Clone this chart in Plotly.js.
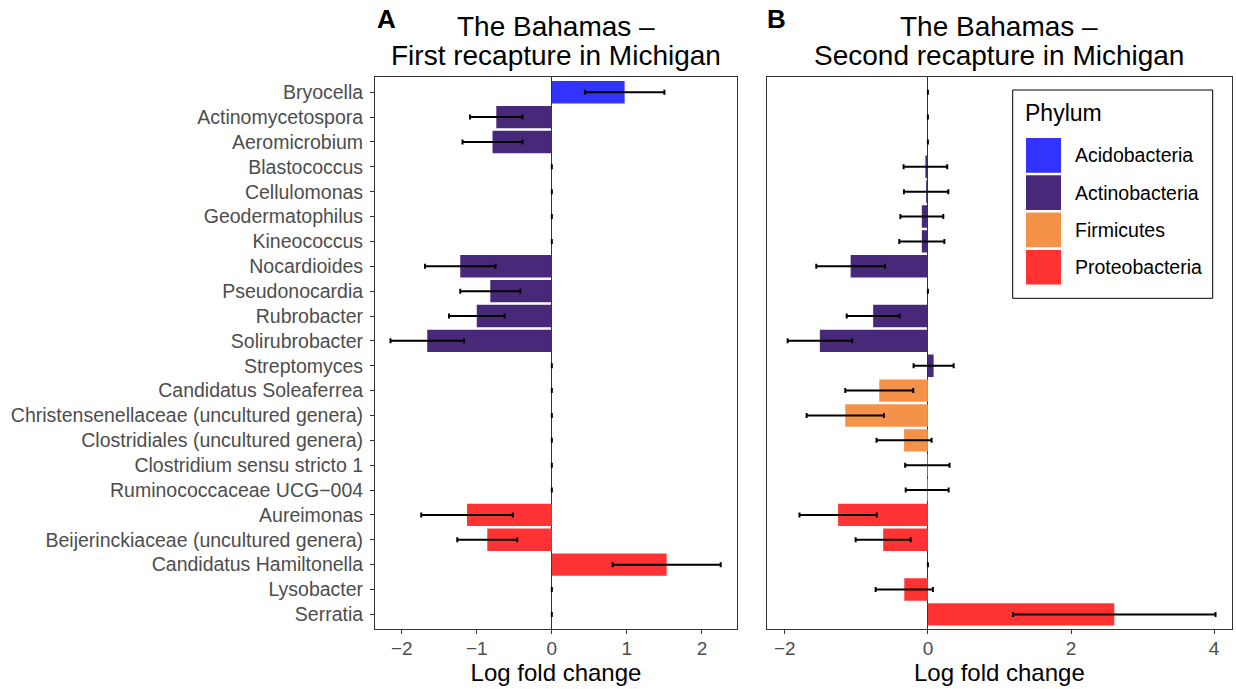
<!DOCTYPE html>
<html><head><meta charset="utf-8">
<script src="https://cdn.plot.ly/plotly-3.0.1.min.js"></script>
<style>html,body{margin:0;padding:0;background:#fff}#chart{width:1236px;height:689px}</style>
</head><body><div id="chart"></div>
<script>
const genera = ["Bryocella","Actinomycetospora","Aeromicrobium","Blastococcus","Cellulomonas","Geodermatophilus","Kineococcus","Nocardioides","Pseudonocardia","Rubrobacter","Solirubrobacter","Streptomyces","Candidatus Soleaferrea","Christensenellaceae (uncultured genera)","Clostridiales (uncultured genera)","Clostridium sensu stricto 1","Ruminococcaceae UCG\u2212004","Aureimonas","Beijerinckiaceae (uncultured genera)","Candidatus Hamiltonella","Lysobacter","Serratia"];
const phylum = ["Acidobacteria","Actinobacteria","Actinobacteria","Actinobacteria","Actinobacteria","Actinobacteria","Actinobacteria","Actinobacteria","Actinobacteria","Actinobacteria","Actinobacteria","Actinobacteria","Firmicutes","Firmicutes","Firmicutes","Firmicutes","Firmicutes","Proteobacteria","Proteobacteria","Proteobacteria","Proteobacteria","Proteobacteria"];
const lfcFirst = [0.97,-0.74,-0.79,0,0,0,0,-1.22,-0.82,-1.00,-1.66,0,0,0,0,0,0,-1.13,-0.86,1.53,0,0];
const seFirst  = [0.53,0.35,0.40,0,0,0,0,0.47,0.40,0.37,0.49,0,0,0,0,0,0,0.61,0.40,0.72,0,0];
const lfcSecond = [0,0,0,-0.035,-0.025,-0.085,-0.085,-1.08,0,-0.765,-1.51,0.08,-0.68,-1.155,-0.333,-0.008,-0.01,-1.255,-0.625,0,-0.33,2.605];
const seSecond  = [0,0,0,0.305,0.31,0.30,0.315,0.48,0,0.37,0.45,0.28,0.475,0.54,0.385,0.31,0.30,0.54,0.385,0,0.40,1.415];
const phyla = ["Acidobacteria","Actinobacteria","Firmicutes","Proteobacteria"];
const titleLines = [["The Bahamas \u2013","First recapture in Michigan"],["The Bahamas \u2013","Second recapture in Michigan"]];
const phylumColors = {"Acidobacteria":"#3333FF","Actinobacteria":"#482878","Firmicutes":"#F39248","Proteobacteria":"#FF3333"};

const FONT = "Liberation Sans, Arial, Helvetica, sans-serif";
function barTrace(vals, errs, xa, ya){
  return {type:"bar", orientation:"h", x:vals, y:genera, xaxis:xa, yaxis:ya,
    width:0.9, marker:{color:phylum.map(p=>phylumColors[p]), line:{width:0}},
    error_x:{type:"data", array:errs, visible:true, color:"#000", thickness:2, width:2.5},
    showlegend:false, hoverinfo:"x+y"};
}
const data = [barTrace(lfcFirst, seFirst, "x", "y"), barTrace(lfcSecond, seSecond, "x2", "y2")];

const axBase = {showgrid:false, zeroline:true, zerolinecolor:"#333", zerolinewidth:1,
  showline:true, mirror:true, linecolor:"#333", linewidth:1,
  ticks:"outside", ticklen:4, tickcolor:"#333", tickwidth:1,
  tickfont:{family:FONT, size:19, color:"#4D4D4D"}};
const yDom = [1-629.3/689, 1-77.3/689];
const xTitle = {text:"Log fold change", font:{family:FONT, size:24, color:"#000"}, standoff:2};
const layout = {
  width:1236, height:689, margin:{l:0,r:0,t:0,b:0}, paper_bgcolor:"#fff", plot_bgcolor:"#fff",
  barmode:"overlay", font:{family:FONT},
  xaxis:Object.assign({}, axBase, {domain:[375/1236, 737/1236], range:[-2.356, 2.467], dtick:1, tick0:0,
    title:xTitle, ticklabelstandoff:-2}),
  yaxis:Object.assign({}, axBase, {domain:yDom, type:"category", range:[21.6,-0.6], zeroline:false,
    ticklabelstandoff:3, tickfont:{family:FONT, size:19.5, color:"#4D4D4D"}}),
  xaxis2:Object.assign({}, axBase, {domain:[766.7/1236, 1232/1236], range:[-2.253, 4.25], dtick:2, tick0:0, anchor:"y2",
    title:xTitle, ticklabelstandoff:-2}),
  yaxis2:Object.assign({}, axBase, {domain:yDom, type:"category", range:[21.6,-0.6], zeroline:false, anchor:"x2",
    showticklabels:false, ticks:""}),
  annotations:[
    {xref:"paper", yref:"paper", x:375/1236, y:1-2/689, yanchor:"top", xanchor:"left", showarrow:false,
      text:"<b>A</b>", font:{family:FONT, size:26, color:"#000"}},
    {xref:"paper", yref:"paper", x:765/1236, y:1-2/689, yanchor:"top", xanchor:"left", showarrow:false,
      text:"<b>B</b>", font:{family:FONT, size:26, color:"#000"}},
    {xref:"paper", yref:"paper", x:1023/1236, y:1-113/689, yanchor:"middle", xanchor:"left", showarrow:false,
      text:"Phylum", font:{family:FONT, size:23, color:"#000"}}
  ],
  shapes:[
    {type:"rect", xref:"paper", yref:"paper", x0:1012.7/1236, x1:1212.7/1236, y0:1-298.3/689, y1:1-90/689,
      line:{color:"#000", width:1}, fillcolor:"#fff", layer:"above"}
  ]
};
["x domain","x2 domain"].forEach((xr,k)=>{
  titleLines[k].forEach((t,j)=>{
    layout.annotations.push({xref:xr, yref:"paper", x:0.5, y:1-(27+j*29)/689, yanchor:"middle", xanchor:"center",
      showarrow:false, text:t, font:{family:FONT, size:28, color:"#000"}});
  });
});
phyla.forEach((p,i)=>{
  const top = 138 + i*37.3;
  layout.shapes.push({type:"rect", xref:"paper", yref:"paper", x0:1026/1236, x1:1061/1236,
    y0:1-(top+34.7)/689, y1:1-top/689, fillcolor:phylumColors[p], line:{width:0}, layer:"above"});
  layout.annotations.push({xref:"paper", yref:"paper", x:1073/1236, y:1-(top+17.3)/689, xanchor:"left", yanchor:"middle",
    showarrow:false, text:p, font:{family:FONT, size:19.5, color:"#000"}});
});
Plotly.newPlot("chart", data, layout, {displayModeBar:false, staticPlot:true});
</script></body></html>
